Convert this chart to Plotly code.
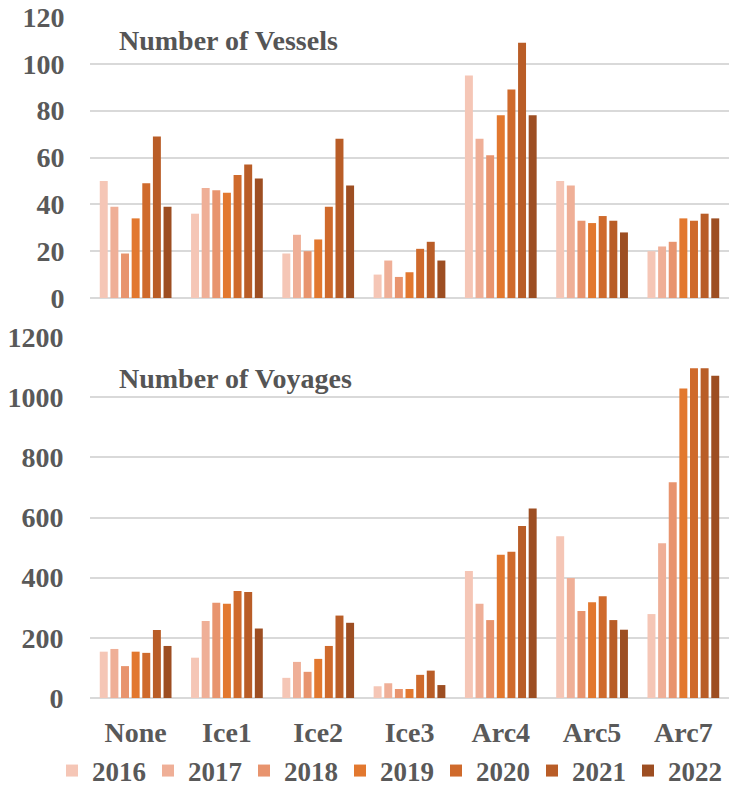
import plotly.graph_objects as go
from plotly.subplots import make_subplots

categories = ["None", "Ice1", "Ice2", "Ice3", "Arc4", "Arc5", "Arc7"]
years = ["2016", "2017", "2018", "2019", "2020", "2021", "2022"]

vessels_2016 = [50, 36, 19, 10, 95, 50, 20]
vessels_2017 = [39, 47, 27, 16, 68, 48, 22]
vessels_2018 = [19, 46, 20, 9, 61, 33, 24]
vessels_2019 = [34, 45, 25, 11, 78, 32, 34]
vessels_2020 = [49, 52.5, 39, 21, 89, 35, 33]
vessels_2021 = [69, 57, 68, 24, 109, 33, 36]
vessels_2022 = [39, 51, 48, 16, 78, 28, 34]

voyages_2016 = [154, 134, 67, 39, 422, 538, 279]
voyages_2017 = [163, 256, 120, 49, 313, 399, 514]
voyages_2018 = [106, 317, 87, 30, 259, 289, 717]
voyages_2019 = [154, 313, 130, 30, 476, 318, 1029]
voyages_2020 = [150, 356, 173, 77, 486, 338, 1096]
voyages_2021 = [226, 352, 274, 91, 572, 259, 1096]
voyages_2022 = [173, 231, 250, 43, 630, 227, 1071]

vessels = [vessels_2016, vessels_2017, vessels_2018, vessels_2019,
           vessels_2020, vessels_2021, vessels_2022]
voyages = [voyages_2016, voyages_2017, voyages_2018, voyages_2019,
           voyages_2020, voyages_2021, voyages_2022]

colors = ["#F5C6B6", "#EFAF97", "#E8946E", "#E2782F", "#CF6A2C", "#B95D27", "#9D4E22"]

vessel_ticks = [0, 20, 40, 60, 80, 100, 120]
voyage_ticks = [0, 200, 400, 600, 800, 1000, 1200]

W, H = 729, 789
FONT = "Liberation Serif"
TXT = "#595959"
FS = 28

fig = make_subplots(rows=2, cols=1)

for i, y in enumerate(years):
    fig.add_trace(go.Bar(x=categories, y=vessels[i], name=y, marker_color=colors[i],
                         marker_line_width=0, legendgroup=y, showlegend=False),
                  row=1, col=1)
    fig.add_trace(go.Bar(x=categories, y=voyages[i], name=y, marker_color=colors[i],
                         marker_line_width=0, legendgroup=y, showlegend=True),
                  row=2, col=1)

def py(p):
    return 1 - p / H

xdom = [90 / W, 1.0]
tf = dict(family=FONT, size=FS, color=TXT, weight="bold")
lf = dict(family=FONT, size=27, color=TXT, weight="bold")
fig.update_layout(
    width=W, height=H,
    margin=dict(l=0, r=0, t=0, b=0, autoexpand=False),
    paper_bgcolor="white", plot_bgcolor="white",
    barmode="group", bargap=0.185, bargroupgap=0.25,
    font=tf,
    xaxis=dict(domain=xdom, anchor="y", showticklabels=False, ticks="",
               showgrid=False, showline=False, zeroline=False),
    xaxis2=dict(domain=xdom, anchor="y2", ticks="outside", ticklen=9,
                tickcolor="rgba(0,0,0,0)", showgrid=False, showline=False,
                zeroline=False, automargin=False, tickfont=tf),
    yaxis=dict(domain=[py(298), py(17)], range=[0, 120], tickvals=vessel_ticks,
               gridcolor="#D9D9D9", gridwidth=1.5, zeroline=True, zerolinecolor="#D9D9D9",
               zerolinewidth=1.5,
               ticks="outside", ticklen=19, tickcolor="rgba(0,0,0,0)", automargin=False,
               tickfont=tf),
    yaxis2=dict(domain=[py(698), py(337)], range=[0, 1200], tickvals=voyage_ticks,
                gridcolor="#D9D9D9", gridwidth=1.5, zeroline=True, zerolinecolor="#D9D9D9",
                zerolinewidth=1.5,
                ticks="outside", ticklen=20, tickcolor="rgba(0,0,0,0)", automargin=False,
                tickfont=tf),
    legend=dict(orientation="h", x=52 / W, xanchor="left", y=py(771), yanchor="middle",
                entrywidth=51, entrywidthmode="pixels", itemwidth=30,
                font=lf, bgcolor="rgba(0,0,0,0)"),
    annotations=[
        dict(text="Number of Vessels", x=229 / W, y=py(40), xref="paper", yref="paper",
             xanchor="center", yanchor="middle", showarrow=False,
             font=dict(family=FONT, size=28, color="#555555", weight="bold")),
        dict(text="Number of Voyages", x=235 / W, y=py(378), xref="paper", yref="paper",
             xanchor="center", yanchor="middle", showarrow=False,
             font=dict(family=FONT, size=28, color="#555555", weight="bold")),
    ],
)

fig.write_html("out.html", config={"displayModeBar": False},
               post_script="document.body.style.margin='0';document.body.style.overflow='hidden';")
